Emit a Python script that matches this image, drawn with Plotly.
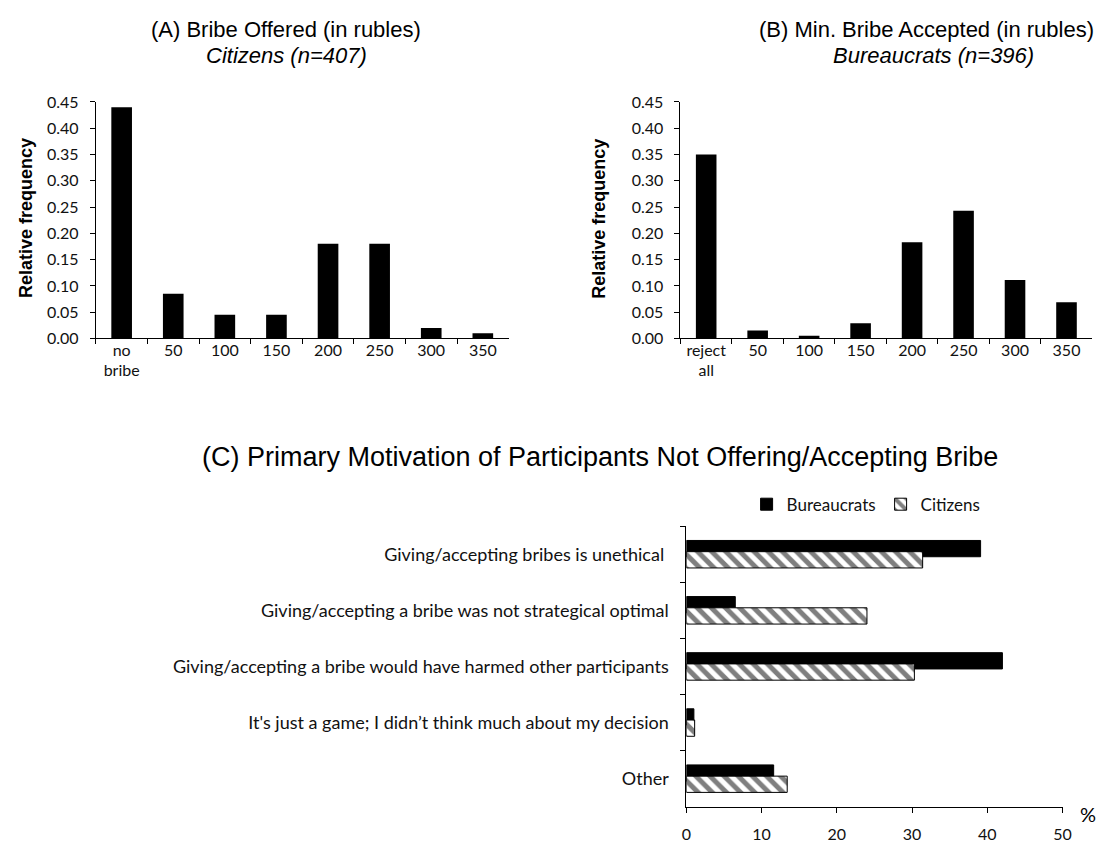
import plotly.graph_objects as go

# ---- data ----
offer_cats = ["no<br>bribe", "50", "100", "150", "200", "250", "300", "350"]
offer_freq = [0.44, 0.085, 0.045, 0.045, 0.18, 0.18, 0.02, 0.01]

accept_cats = ["reject<br>all", "50", "100", "150", "200", "250", "300", "350"]
accept_freq = [0.35, 0.015, 0.005, 0.029, 0.183, 0.243, 0.111, 0.069]

motives = [
    "Giving/accepting bribes is unethical ",
    "Giving/accepting a bribe was not strategical optimal",
    "Giving/accepting a bribe would have harmed other participants",
    "It's just a game; I didn\u2019t think much about my decision",
    "Other",
]
bureaucrats_pct = [39.1, 6.5, 42.0, 1.0, 11.6]
citizens_pct = [31.4, 24.0, 30.3, 1.1, 13.4]

freq_ticks = [0.0, 0.05, 0.10, 0.15, 0.20, 0.25, 0.30, 0.35, 0.40, 0.45]
pct_ticks = [0, 10, 20, 30, 40, 50]

# ---- layout helpers (pixel -> paper) ----
W, H = 1120, 847


def px(x):
    return x / W


def py(y):
    return 1 - y / H


TICK_FONT = dict(family="Lato", size=16, color="#111111")
CAT_FONT = dict(family="Lato", size=18, color="#111111")
TITLE_FONT = "Liberation Sans"

fig = go.Figure()

fig.add_trace(go.Bar(x=offer_cats, y=offer_freq, marker=dict(color="black", line=dict(width=0)),
                     xaxis="x", yaxis="y", showlegend=False))
fig.add_trace(go.Bar(x=accept_cats, y=accept_freq, marker=dict(color="black", line=dict(width=0)),
                     xaxis="x2", yaxis="y2", showlegend=False))

fig.add_trace(go.Bar(y=motives, x=bureaucrats_pct, orientation="h", name="Bureaucrats",
                     marker=dict(color="black", line=dict(color="black", width=1)),
                     xaxis="x3", yaxis="y3"))
fig.add_trace(go.Bar(y=motives, x=citizens_pct, orientation="h", name="Citizens",
                     marker=dict(color="white", line=dict(color="black", width=1),
                                 pattern=dict(shape="\\", fgcolor="black", bgcolor="white",
                                              size=10, solidity=0.5)),
                     xaxis="x3", yaxis="y3"))

freq_axis = dict(range=[0, 0.45], tickvals=freq_ticks, ticktext=[f"{v:.2f}" for v in freq_ticks],
                 showline=True, linecolor="black", linewidth=1, ticks="outside", ticklen=5,
                 tickcolor="black", showgrid=False, zeroline=False, tickfont=TICK_FONT,
                 ticklabelstandoff=8)
cat_axis = dict(type="category", range=[-0.5, 7.5], showline=True, linecolor="black", linewidth=1,
                ticks="outside", ticklen=5, tickcolor="black", tickson="boundaries",
                showgrid=False, tickfont=TICK_FONT, ticklabelstandoff=-3)

fig.update_layout(
    width=W, height=H,
    margin=dict(l=0, r=0, t=0, b=0),
    paper_bgcolor="white", plot_bgcolor="white",
    bargap=0.6,
    barmode="group",
    xaxis=dict(cat_axis, domain=[px(92), px(510)], anchor="y"),
    yaxis=dict(freq_axis, domain=[py(336), py(94)], anchor="x"),
    xaxis2=dict(cat_axis, domain=[px(684), px(1101)], anchor="y2"),
    yaxis2=dict(freq_axis, domain=[py(336), py(94)], anchor="x2"),
    xaxis3=dict(range=[0, 50], tickvals=pct_ticks, domain=[px(690), px(1071)], anchor="y3",
                showline=True, linecolor="black", linewidth=1, ticks="outside", ticklen=5,
                tickcolor="black", showgrid=False, zeroline=False, tickfont=TICK_FONT,
                ticklabelstandoff=8),
    yaxis3=dict(type="category", autorange="reversed", domain=[py(815), py(528)], anchor="x3",
                showline=True, linecolor="black", linewidth=1, ticks="outside", ticklen=5,
                tickcolor="black", tickson="boundaries", showgrid=False, tickfont=CAT_FONT,
                ticklabelstandoff=13),
    legend=dict(orientation="h", x=px(872), y=py(506), xanchor="center", yanchor="middle",
                font=dict(family="Lato", size=17, color="#111111"), itemwidth=30,
                bgcolor="rgba(0,0,0,0)"),
)
# grouped horizontal bars in panel C use their own thickness
fig.update_traces(selector=dict(orientation="h"), width=0.29)

annotations = [
    dict(x=px(285), y=py(20), text="(A) Bribe Offered (in rubles)", font=dict(family=TITLE_FONT, size=22)),
    dict(x=px(285), y=py(47), text="<i>Citizens (n=407)</i>", font=dict(family=TITLE_FONT, size=22)),
    dict(x=px(933), y=py(20), text="(B) Min. Bribe Accepted (in rubles)", font=dict(family=TITLE_FONT, size=22)),
    dict(x=px(940), y=py(47), text="<i>Bureaucrats (n=396)</i>", font=dict(family=TITLE_FONT, size=22)),
    dict(x=px(603), y=py(457), text="(C) Primary Motivation of Participants Not Offering/Accepting Bribe",
         font=dict(family=TITLE_FONT, size=27)),
    dict(x=px(21), y=py(213), text="<b>Relative frequency</b>", textangle=-90,
         font=dict(family=TITLE_FONT, size=18)),
    dict(x=px(602), y=py(213), text="<b>Relative frequency</b>", textangle=-90,
         font=dict(family=TITLE_FONT, size=18)),
    dict(x=px(1097), y=py(822), text="%", font=dict(family="Lato", size=20)),
]
for a in annotations:
    a.update(xref="paper", yref="paper", showarrow=False, xanchor="center", yanchor="middle")
    a["font"].setdefault("color", "black")
fig.update_layout(annotations=annotations)

fig.write_html("out.html")
